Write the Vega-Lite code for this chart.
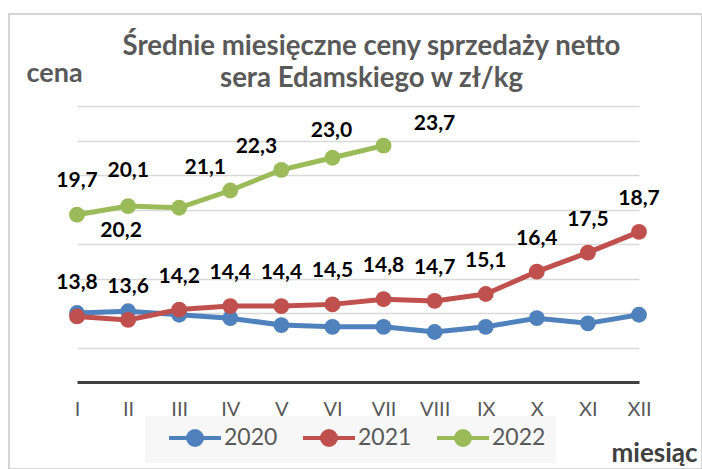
{
  "$schema": "https://vega.github.io/schema/vega-lite/v6.json",
  "width": 693,
  "height": 455,
  "autosize": {"type": "none"},
  "padding": {"left": 9, "top": 14, "right": 0, "bottom": 0},
  "background": "white",
  "config": {
    "view": {"stroke": "#c8c8c8", "strokeWidth": 1.5},
    "font": "Lato",
    "locale": {"number": {"decimal": ",", "thousands": " ", "grouping": [3], "currency": ["", " zł"]}},
    "text": {"font": "Lato", "fontSize": 21, "fontWeight": "bold", "baseline": "middle", "align": "center"}
  },
  "title": {
    "text": ["Średnie miesięczne ceny sprzedaży netto", "sera Edamskiego w zł/kg"],
    "font": "Lato",
    "fontSize": 27.6,
    "fontWeight": "bold",
    "color": "#595959",
    "anchor": "middle",
    "frame": "group",
    "baseline": "alphabetic",
    "offset": 0,
    "dy": 101,
    "dx": 16,
    "lineHeight": 32
  },
  "data": {
    "values": [
      {"month": "I", "year": "2020", "value": 14.0},
      {"month": "II", "year": "2020", "value": 14.1},
      {"month": "III", "year": "2020", "value": 13.9},
      {"month": "IV", "year": "2020", "value": 13.7},
      {"month": "V", "year": "2020", "value": 13.3},
      {"month": "VI", "year": "2020", "value": 13.2},
      {"month": "VII", "year": "2020", "value": 13.2},
      {"month": "VIII", "year": "2020", "value": 12.9},
      {"month": "IX", "year": "2020", "value": 13.2},
      {"month": "X", "year": "2020", "value": 13.7},
      {"month": "XI", "year": "2020", "value": 13.4},
      {"month": "XII", "year": "2020", "value": 13.9},
      {"month": "I", "year": "2021", "value": 13.8},
      {"month": "II", "year": "2021", "value": 13.6},
      {"month": "III", "year": "2021", "value": 14.2},
      {"month": "IV", "year": "2021", "value": 14.4},
      {"month": "V", "year": "2021", "value": 14.4},
      {"month": "VI", "year": "2021", "value": 14.5},
      {"month": "VII", "year": "2021", "value": 14.8},
      {"month": "VIII", "year": "2021", "value": 14.7},
      {"month": "IX", "year": "2021", "value": 15.1},
      {"month": "X", "year": "2021", "value": 16.4},
      {"month": "XI", "year": "2021", "value": 17.5},
      {"month": "XII", "year": "2021", "value": 18.7},
      {"month": "I", "year": "2022", "value": 19.7},
      {"month": "II", "year": "2022", "value": 20.2},
      {"month": "III", "year": "2022", "value": 20.1},
      {"month": "IV", "year": "2022", "value": 21.1},
      {"month": "V", "year": "2022", "value": 22.3},
      {"month": "VI", "year": "2022", "value": 23.0},
      {"month": "VII", "year": "2022", "value": 23.7}
    ]
  },
  "encoding": {
    "x": {
      "field": "month",
      "type": "ordinal",
      "sort": ["I", "II", "III", "IV", "V", "VI", "VII", "VIII", "IX", "X", "XI", "XII"],
      "scale": {"type": "point", "domain": ["I", "II", "III", "IV", "V", "VI", "VII", "VIII", "IX", "X", "XI", "XII"], "range": [68, 630], "padding": 0},
      "axis": {
        "title": "miesiąc",
        "titleFont": "Lato",
        "titleFontSize": 26,
        "titleFontWeight": "bold",
        "titleColor": "#404040",
        "titleAlign": "left",
        "titleBaseline": "alphabetic",
        "titleAnchor": "start",
        "titleX": 602,
        "titleY": 64,
        "domain": false,
        "ticks": false,
        "grid": false,
        "labelFont": "Lato",
        "labelFontSize": 20,
        "labelColor": "#595959",
        "labelPadding": 2,
        "labelAngle": 0,
        "offset": -72
      }
    },
    "y": {
      "field": "value",
      "type": "quantitative",
      "scale": {"domain": [10, 26], "range": [368, 92], "nice": false, "zero": false},
      "axis": {
        "title": "cena",
        "titleFont": "Lato",
        "titleFontSize": 27,
        "titleFontWeight": "bold",
        "titleColor": "#595959",
        "titleAngle": 0,
        "titleAlign": "left",
        "titleBaseline": "alphabetic",
        "titleAnchor": "start",
        "titleX": 17,
        "titleY": 67,
        "values": [10, 12, 14, 16, 18, 20, 22, 24, 26],
        "labels": false,
        "ticks": false,
        "domain": false,
        "grid": true,
        "gridColor": {"condition": {"test": "datum.value === 10", "value": "#404040"}, "value": "#d9d9d9"},
        "gridWidth": {"condition": {"test": "datum.value === 10", "value": 3}, "value": 1.5}
      }
    },
    "color": {
      "field": "year",
      "type": "nominal",
      "scale": {"domain": ["2020", "2021", "2022"], "range": ["#4F81BD", "#C0504D", "#9BBB59"]},
      "legend": {
        "orient": "none",
        "legendX": 136,
        "legendY": 402,
        "direction": "horizontal",
        "title": null,
        "fillColor": "#f7f7f7",
        "padding": 10,
        "symbolType": "M-2.6,0L2.6,0M-0.7,0A0.7,0.7,0,1,1,0.7,0A0.7,0.7,0,1,1,-0.7,0Z",
        "symbolSize": 400,
        "symbolStrokeWidth": 4,
        "symbolOffset": 28,
        "labelFont": "Lato",
        "labelFontSize": 23,
        "labelColor": "#595959",
        "labelOffset": 17,
        "columnPadding": 11,
        "encode": {
          "symbols": {
            "update": {
              "fill": {"scale": "color", "field": "value"},
              "stroke": {"scale": "color", "field": "value"},
              "strokeWidth": {"value": 4},
              "opacity": {"value": 1}
            }
          }
        }
      }
    }
  },
  "layer": [
    {"mark": {"type": "line", "strokeWidth": 5}},
    {"mark": {"type": "point", "filled": true, "size": 250, "opacity": 1}},
    {
      "transform": [{"filter": "datum.year === '2021'"}],
      "mark": {"type": "text", "dy": -33},
      "encoding": {"text": {"field": "value", "type": "quantitative", "format": ".1f"}, "color": {"value": "black"}}
    },
    {
      "transform": [{"filter": "datum.year === '2022' && datum.month === 'I'"}],
      "mark": {"type": "text", "dy": -34},
      "encoding": {"text": {"field": "value", "type": "quantitative", "format": ".1f"}, "color": {"value": "black"}}
    },
    {
      "transform": [{"filter": "datum.year === '2022' && datum.month === 'II'"}],
      "mark": {"type": "text", "dx": -7, "dy": 25},
      "encoding": {"text": {"field": "value", "type": "quantitative", "format": ".1f"}, "color": {"value": "black"}}
    },
    {
      "transform": [{"filter": "datum.year === '2022' && datum.month === 'III'"}],
      "mark": {"type": "text", "dx": -51, "dy": -37},
      "encoding": {"text": {"field": "value", "type": "quantitative", "format": ".1f"}, "color": {"value": "black"}}
    },
    {
      "transform": [{"filter": "datum.year === '2022' && (datum.month === 'IV' || datum.month === 'V')"}],
      "mark": {"type": "text", "dx": -25, "dy": -23},
      "encoding": {"text": {"field": "value", "type": "quantitative", "format": ".1f"}, "color": {"value": "black"}}
    },
    {
      "transform": [{"filter": "datum.year === '2022' && datum.month === 'VI'"}],
      "mark": {"type": "text", "dx": -1, "dy": -27},
      "encoding": {"text": {"field": "value", "type": "quantitative", "format": ".1f"}, "color": {"value": "black"}}
    },
    {
      "transform": [{"filter": "datum.year === '2022' && datum.month === 'VII'"}],
      "mark": {"type": "text", "dx": 51, "dy": -22},
      "encoding": {"text": {"field": "value", "type": "quantitative", "format": ".1f"}, "color": {"value": "black"}}
    }
  ]
}
